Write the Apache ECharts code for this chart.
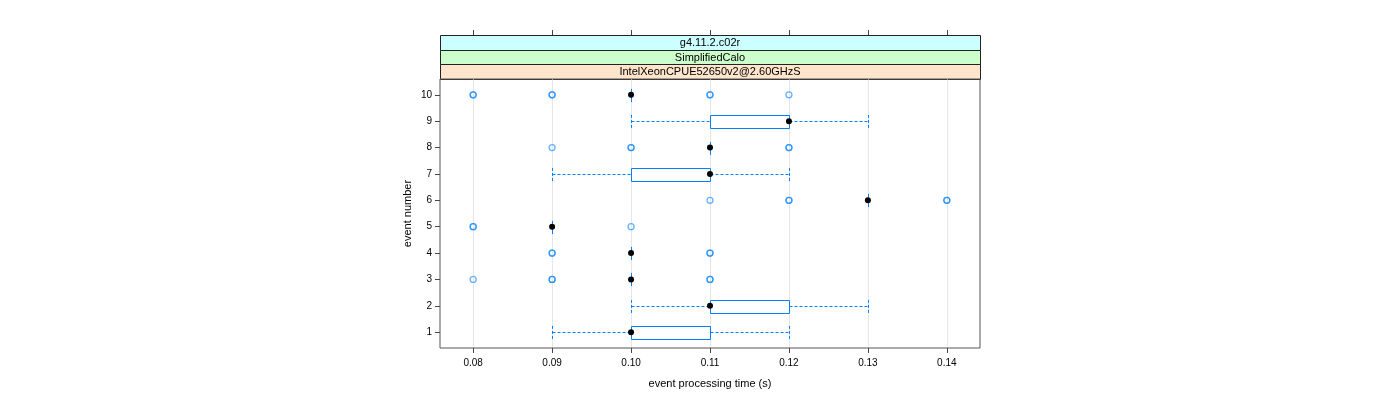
<!DOCTYPE html>
<html><head><meta charset="utf-8">
<script src="https://cdn.jsdelivr.net/npm/echarts@6/dist/echarts.min.js"></script>
<style>html,body{margin:0;padding:0;background:#fff}#c{width:1400px;height:400px}</style>
</head><body><div id="c"></div>
<script>
// ---- data ----
const events = [1, 2, 3, 4, 5, 6, 7, 8, 9, 10];
const lowWhisker  = [0.09, 0.10, 0.10, 0.10, 0.09, 0.13, 0.09, 0.11, 0.10, 0.10];
const lowerQuart  = [0.10, 0.11, 0.10, 0.10, 0.09, 0.13, 0.10, 0.11, 0.11, 0.10];
const medians     = [0.10, 0.11, 0.10, 0.10, 0.09, 0.13, 0.11, 0.11, 0.12, 0.10];
const upperQuart  = [0.11, 0.12, 0.10, 0.10, 0.09, 0.13, 0.11, 0.11, 0.12, 0.10];
const highWhisker = [0.12, 0.13, 0.10, 0.10, 0.09, 0.13, 0.12, 0.11, 0.13, 0.10];
const outliers1  = [];
const outliers2  = [];
const outliers3  = [0.08, 0.09, 0.09, 0.11, 0.11];
const outliers4  = [0.09, 0.09, 0.11, 0.11];
const outliers5  = [0.08, 0.08, 0.10];
const outliers6  = [0.11, 0.12, 0.12, 0.14, 0.14];
const outliers7  = [];
const outliers8  = [0.09, 0.10, 0.10, 0.12, 0.12];
const outliers9  = [];
const outliers10 = [0.08, 0.08, 0.09, 0.09, 0.11, 0.11, 0.12];
const xTicks = [0.08, 0.09, 0.10, 0.11, 0.12, 0.13, 0.14];
const yTicks = [1, 2, 3, 4, 5, 6, 7, 8, 9, 10];
const stripLabels = ['g4.11.2.c02r', 'SimplifiedCalo', 'IntelXeonCPUE52650v2@2.60GHzS'];
const xTitle = 'event processing time (s)';
const yTitle = 'event number';

// ---- build ----
const outlierLists = [outliers1, outliers2, outliers3, outliers4, outliers5, outliers6, outliers7, outliers8, outliers9, outliers10];
const boxData = events.map((e, i) => [e, lowWhisker[i], lowerQuart[i], medians[i], upperQuart[i], highWhisker[i]]);
const medianData = events.map((e, i) => [medians[i], e]);
const outlierData = [];
outlierLists.forEach((lst, i) => lst.forEach(v => outlierData.push([v, events[i]])));

const X_MIN = 0.0758, X_MAX = 0.1442, Y_MIN = 0.4, Y_MAX = 10.6;
const GL = 440, GW = 540, GT = 79, GH = 269;
const FONT = 'Liberation Sans';
const BLUE = '#0080ff';
const px = v => Math.round(v) + 0.5;

function renderGrid(params, api) {
  const v = api.value(0);
  const a = api.coord([v, Y_MIN]), b = api.coord([v, Y_MAX]);
  return { type: 'line', shape: { x1: px(a[0]), y1: a[1], x2: px(a[0]), y2: b[1] },
    style: { stroke: '#e6e6e6', lineWidth: 1 } };
}

function renderBox(params, api) {
  const y = api.value(0), lo = api.value(1), q1 = api.value(2), q3 = api.value(4), hi = api.value(5);
  const h = api.size([0, 0.5])[1];
  const cy = px(api.coord([0, y])[1]);
  const xo = v => px(api.coord([v, y])[0]);
  const top = cy - h / 2, bot = cy + h / 2;
  const dashStyle = { stroke: BLUE, lineWidth: 1, lineDash: [3, 2], fill: null };
  const solid = { stroke: BLUE, lineWidth: 1, fill: null };
  const ch = [];
  if (lo < q1) {
    ch.push({ type: 'line', shape: { x1: xo(lo), y1: cy, x2: xo(q1), y2: cy }, style: dashStyle });
    ch.push({ type: 'line', shape: { x1: xo(lo), y1: top, x2: xo(lo), y2: bot }, style: dashStyle });
  }
  if (hi > q3) {
    ch.push({ type: 'line', shape: { x1: xo(q3), y1: cy, x2: xo(hi), y2: cy }, style: dashStyle });
    ch.push({ type: 'line', shape: { x1: xo(hi), y1: top, x2: xo(hi), y2: bot }, style: dashStyle });
  }
  if (q3 > q1) {
    ch.push({ type: 'rect', shape: { x: xo(q1), y: Math.round(top) + 0.5, width: xo(q3) - xo(q1), height: Math.round(h) }, style: { stroke: BLUE, lineWidth: 1, fill: '#fff' } });
  } else {
    ch.push({ type: 'line', shape: { x1: xo(q1), y1: top, x2: xo(q1), y2: bot }, style: solid });
  }
  return { type: 'group', children: ch };
}

const chart = echarts.init(document.getElementById('c'), null, { renderer: 'canvas' });
const stripH = 14.67;
const stripColors = ['#ccffff', '#ccffcc', '#ffe5cc'];
const graphics = stripLabels.map((t, i) => ({
  type: 'group', z: 100,
  children: [
    { type: 'rect', shape: { x: GL + 0.5, y: Math.round(35 + i * stripH) + 0.5, width: GW, height: Math.round(35 + (i + 1) * stripH) - Math.round(35 + i * stripH) },
      style: { fill: stripColors[i], stroke: '#222', lineWidth: 1 } },
    { type: 'text', x: GL + GW / 2, y: 35 + (i + 0.5) * stripH + 0.5,
      style: { text: t, font: '11px "' + FONT + '"', fill: '#000', align: 'center', verticalAlign: 'middle' } }
  ]
}));

chart.setOption({
  animation: false,
  backgroundColor: '#fff',
  textStyle: { fontFamily: FONT },
  grid: [
    { left: GL, width: GW, top: GT, height: GH, show: true, borderColor: '#555', borderWidth: 1, backgroundColor: 'transparent', z: 10 },
    { left: GL, width: GW, top: 35, height: GT - 35, show: false }
  ],
  xAxis: [
    { gridIndex: 0, type: 'value', min: X_MIN, max: X_MAX,
      name: xTitle, nameLocation: 'middle', nameGap: 30,
      nameTextStyle: { fontSize: 11, color: '#000', fontFamily: FONT },
      axisLine: { show: false, onZero: false },
      axisTick: { show: true, length: 5, inside: false, customValues: xTicks, lineStyle: { color: '#444' } },
      axisLabel: { customValues: xTicks, formatter: v => v.toFixed(2), color: '#000', fontSize: 10, margin: 10, fontFamily: FONT },
      splitLine: { show: false } },
    { gridIndex: 1, type: 'value', min: X_MIN, max: X_MAX, position: 'top',
      axisLine: { show: false, onZero: false },
      axisTick: { show: true, length: 5, inside: false, customValues: xTicks, lineStyle: { color: '#444' } },
      axisLabel: { show: false },
      splitLine: { show: false } }
  ],
  yAxis: [
    { gridIndex: 0, type: 'value', min: Y_MIN, max: Y_MAX,
      name: yTitle, nameLocation: 'middle', nameGap: 27, nameRotate: 90,
      nameTextStyle: { fontSize: 11, color: '#000', fontFamily: FONT },
      axisLine: { show: false, onZero: false },
      axisTick: { show: true, length: 5, customValues: yTicks, lineStyle: { color: '#444' } },
      axisLabel: { customValues: yTicks, color: '#000', fontSize: 10, margin: 8, fontFamily: FONT },
      splitLine: { show: false } },
    { gridIndex: 1, type: 'value', min: 0, max: 1, show: false }
  ],
  graphic: graphics,
  series: [
    { type: 'custom', xAxisIndex: 0, yAxisIndex: 0, z: 1, silent: true, renderItem: renderGrid,
      encode: { x: 0 }, data: xTicks.map(v => [v]) },
    { type: 'custom', xAxisIndex: 0, yAxisIndex: 0, z: 3, renderItem: renderBox,
      encode: { x: [1, 2, 3, 4, 5], y: 0 }, data: boxData },
    { type: 'scatter', xAxisIndex: 0, yAxisIndex: 0, z: 4, symbol: 'circle', symbolSize: 6,
      itemStyle: { color: 'rgba(0,0,0,0)', borderColor: 'rgba(0,128,255,0.6)', borderWidth: 1.3, opacity: 1 },
      data: outlierData },
    { type: 'scatter', xAxisIndex: 0, yAxisIndex: 0, z: 5, symbol: 'circle', symbolSize: 6,
      itemStyle: { color: '#000', opacity: 1 }, data: medianData }
  ]
});
</script></body></html>
